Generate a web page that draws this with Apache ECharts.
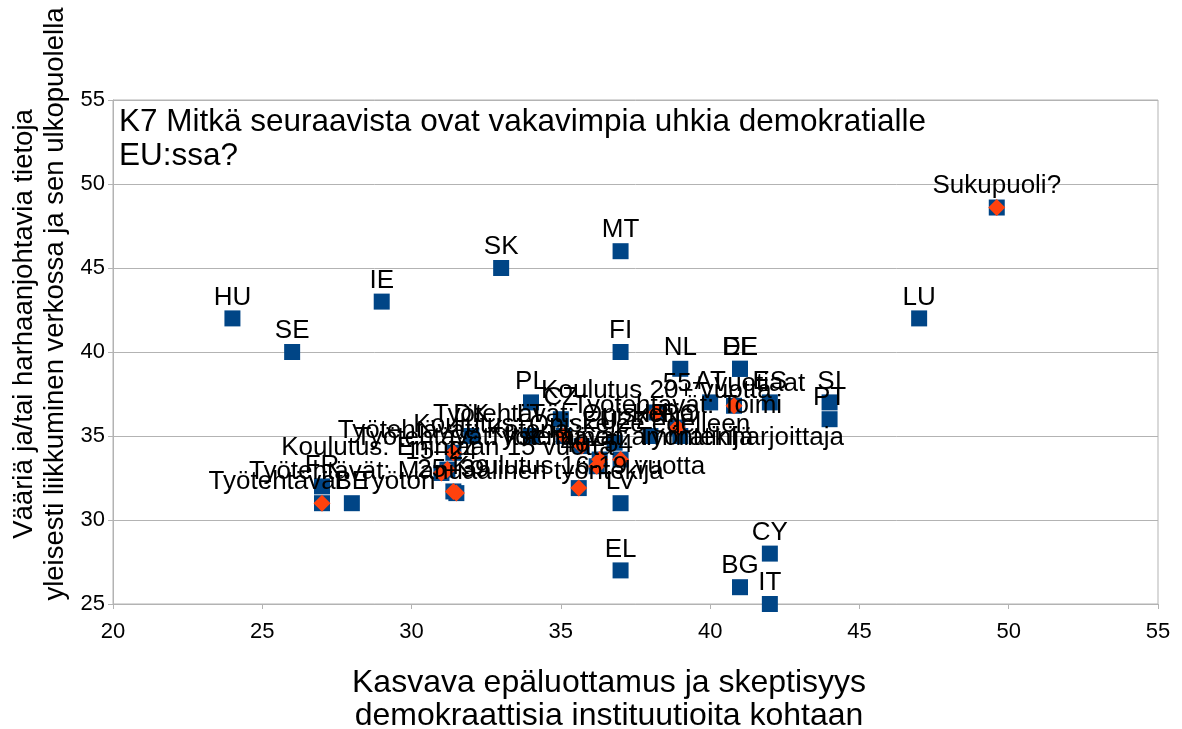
<!DOCTYPE html>
<html>
<head>
<meta charset="utf-8">
<script src="https://cdn.jsdelivr.net/npm/echarts@6/dist/echarts.min.js"></script>
<style>
  html, body { margin: 0; padding: 0; background: #fff; }
  #chart { width: 1182px; height: 729px; }
</style>
</head>
<body>
<div id="chart"></div>
<script>
// countries (blue squares)
let countryNames = ["HU", "SE", "IE", "SK", "MT", "FI", "NL", "DE", "EE", "LU", "AT", "ES", "SI", "PT",
    "PL", "CZ", "LT", "DK", "HR", "RO", "EU27", "FR", "BE", "LV", "EL", "CY", "BG", "IT"];
let countryX = [24, 26, 29, 33, 37, 37, 39, 41, 41, 47, 40, 42, 44, 44,
    34, 35, 34, 32, 38, 39, 36.8, 27, 28, 37, 37, 42, 41, 42];
let countryY = [42, 40, 43, 45, 46, 40, 39, 39, 39, 42, 37, 37, 37, 36,
    37, 36, 35, 35, 35, 35, 34.6, 32, 31, 31, 27, 28, 26, 25];

// demographic groups (red diamonds)
let groupNames = ["Sukupuoli?", "Työtehtävät: Työtön", "Työtehtävät: Manuaalinen työntekijä", "25–39",
    "15–24", "Koulutus: Enintään 15 vuotta", "Työtehtävät: Kotona", "Koulutus 16-19 vuotta",
    "Työtehtävät: Opiskelija", "Koulutus: Opiskelee edelleen", "Työtehtävät: Itsenäinen ammatinharjoittaja",
    "40–54", "Työtehtävät: Työntekijä", "Koulutus 20+ vuotta", "Työtehtävät: Toimi", "55+ vuotiaat"];
let groupX = [49.6, 27.0, 31.5, 31.4, 31.0, 31.2, 31.4, 35.6, 35.1, 35.7, 36.3, 36.2, 37.0, 38.2, 38.9, 40.8];
let groupY = [48.6, 31.0, 31.6, 31.7, 32.8, 33.0, 34.0, 31.9, 35.0, 34.4, 33.6, 33.2, 33.6, 36.4, 35.5, 36.8];

let xTitle = ["Kasvava epäluottamus ja skeptisyys", "demokraattisia instituutioita kohtaan"];
let yTitle = ["Vääriä ja/tai harhaanjohtavia tietoja", "yleisesti liikkuminen verkossa ja sen ulkopuolella"];

let countryData = countryNames.map((n, i) => ({ name: n, value: [countryX[i], countryY[i]] }));
let groupData = groupNames.map((n, i) => ({ name: n, value: [groupX[i], groupY[i]] }));

let fontFam = "'Liberation Sans', Arial, sans-serif";
let labelStyle = {
    show: true,
    position: 'top',
    distance: 0,
    formatter: p => p.name,
    color: '#000',
    fontSize: 26,
    fontFamily: fontFam
};

function axisTitle(text, x, y, rot, size) {
    return {
        type: 'text',
        x: x, y: y,
        rotation: rot,
        style: {
            text: text,
            fill: '#000',
            font: size + 'px ' + fontFam,
            align: 'center',
            verticalAlign: 'middle'
        }
    };
}

let chart = echarts.init(document.getElementById('chart'));
chart.setOption({
    animation: false,
    backgroundColor: '#fff',
    title: {
        text: 'K7 Mitkä seuraavista ovat vakavimpia uhkia demokratialle\nEU:ssa?',
        left: 114,
        top: 100,
        textStyle: { fontSize: 31.5, fontWeight: 'normal', color: '#000', fontFamily: fontFam, lineHeight: 34 }
    },
    grid: {
        left: 113, right: 24, top: 100, bottom: 125,
        outerBoundsMode: 'none', containLabel: false,
        show: true, borderColor: '#b3b3b3', borderWidth: 1
    },
    graphic: [
        axisTitle(xTitle[0], 609, 683, 0, 32),
        axisTitle(xTitle[1], 609, 716, 0, 32),
        axisTitle(yTitle[0], 24, 324, Math.PI / 2, 27.5),
        axisTitle(yTitle[1], 55, 304, Math.PI / 2, 27.5)
    ],
    xAxis: {
        type: 'value',
        min: 20, max: 55, interval: 5,
        axisLine: { lineStyle: { color: '#b3b3b3' } },
        axisTick: { show: true, length: 5, lineStyle: { color: '#b3b3b3' } },
        axisLabel: { fontSize: 22, color: '#000', fontFamily: fontFam, margin: 17 },
        splitLine: { show: false }
    },
    yAxis: {
        type: 'value',
        min: 25, max: 55, interval: 5,
        axisLine: { show: true, lineStyle: { color: '#b3b3b3' } },
        axisTick: { show: true, length: 5, lineStyle: { color: '#b3b3b3' } },
        axisLabel: { fontSize: 22, color: '#000', fontFamily: fontFam, margin: 8 },
        splitLine: { show: true, lineStyle: { color: '#b3b3b3' } }
    },
    series: [
        {
            name: 'Maat',
            type: 'scatter',
            symbol: 'rect',
            symbolSize: 16,
            itemStyle: { color: '#004586', opacity: 1 },
            label: labelStyle,
            data: countryData
        },
        {
            name: 'Ryhmät tausta',
            type: 'scatter',
            symbol: 'rect',
            symbolSize: 16,
            itemStyle: { color: '#004586', opacity: 1 },
            data: groupData
        },
        {
            name: 'Ryhmät',
            type: 'scatter',
            symbol: 'diamond',
            symbolSize: 17,
            itemStyle: { color: '#ff420e', opacity: 1 },
            label: labelStyle,
            data: groupData
        }
    ]
});
</script>
</body>
</html>
